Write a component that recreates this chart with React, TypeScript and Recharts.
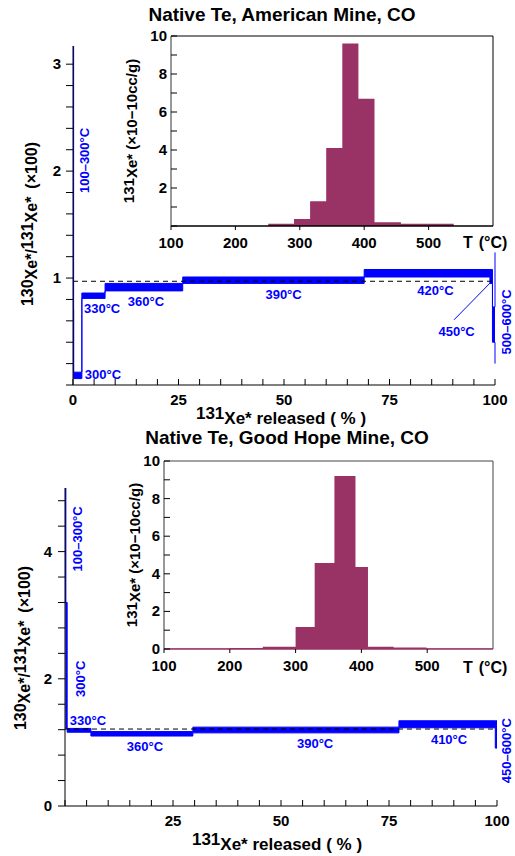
import React from 'react';
import { Area, ComposedChart, ReferenceDot, ReferenceLine, XAxis, YAxis } from 'recharts';

const FONT = '"Liberation Sans", Arial, Helvetica, sans-serif';
const BLUE = '#0000ff';
const MAROON = '#993366';

// ---- American Mine (top panel) ----
// cumulative 131Xe* released (%) at start of each step, 130Xe*/131Xe* band (x100)
const amPct = [0, 0.15, 2.1, 7.6, 26, 69, 98.8, 99.4, 100];
const amLow = [0.7, 0.06, 0.81, 0.88, 0.95, 1.01, 0.95, 0.4, 0.2];
const amHigh = [3.17, 0.12, 0.86, 0.95, 1.01, 1.08, 1.08, 0.73, 1.24];
const amAir = 0.97;
// inset: 131Xe* per temperature step (x10^-10 cc/g), bin edges in °C
const amEdges = [251, 291, 316, 341, 366, 391, 416, 457, 539];
const amXe = [0.12, 0.37, 1.3, 4.1, 9.6, 6.7, 0.2, 0.12];

// ---- Good Hope Mine (bottom panel) ----
const ghPct = [0, 0.2, 0.5, 6, 29.6, 77.3, 99.6, 100];
const ghLow = [3.2, 1.22, 1.16, 1.1, 1.15, 1.23, 0.91, 0.91];
const ghHigh = [5.0, 3.2, 1.22, 1.17, 1.24, 1.34, 1.34, 1.34];
const ghAir = 1.21;
const ghEdges = [100, 200, 250, 300, 329, 359, 391, 410, 449, 499, 600];
const ghXe = [0.03, 0.05, 0.12, 1.17, 4.57, 9.2, 4.36, 0.12, 0.08, 0.03];

// step labels: text, % released, ratio, vertical
type Note = [string, number, number, boolean];
const amNotes: Note[] = [
  ['100–300°C', 2.6, 2.1, true],
  ['300°C', 7.1, 0.1, false],
  ['330°C', 6.9, 0.72, false],
  ['360°C', 17.3, 0.78, false],
  ['390°C', 49.9, 0.85, false],
  ['420°C', 85.9, 0.88, false],
  ['450°C', 90.9, 0.5, false],
  ['500–600°C', 102.8, 0.59, true],
];
const ghNotes: Note[] = [
  ['100–300°C', 2.8, 4.2, true],
  ['300°C', 3.5, 2.0, true],
  ['330°C', 5.3, 1.34, false],
  ['360°C', 18.5, 0.93, false],
  ['390°C', 57.9, 0.98, false],
  ['410°C', 88.9, 1.04, false],
  ['450–600°C', 102.3, 0.87, true],
];

const steps = (from: number, to: number, step: number) => {
  const out: number[] = [];
  for (let i = 0; from + i * step <= to + 1e-9; i++) out.push(Math.round((from + i * step) * 1000) / 1000);
  return out;
};
const pctTicks = steps(0, 100, 5);
const tempTicks = [100, 200, 300, 400, 500];
const insetYTicks = steps(0, 10, 1);

const has = (list: number[], v: number) => list.some((l) => Math.abs(l - v) < 1e-6);

const leftTick = (labels: number[], len: number, inward: boolean, gap: number) => (p: any) => {
  const { x, y, payload } = p;
  return (
    <g>
      <line x1={x} x2={inward ? x + len : x - len} y1={y} y2={y} stroke="#000" />
      {has(labels, payload.value) && (
        <text x={x - gap} y={y} dy={5} textAnchor="end" fontFamily={FONT} fontWeight="bold" fontSize={15} fill="#000">
          {payload.value}
        </text>
      )}
    </g>
  );
};

const bottomTick = (labels: number[], len: number, inward: boolean, gap: number) => (p: any) => {
  const { x, y, payload } = p;
  return (
    <g>
      <line x1={x} x2={x} y1={y} y2={inward ? y - len : y + len} stroke="#000" />
      {has(labels, payload.value) && (
        <text x={x} y={y + gap} textAnchor="middle" fontFamily={FONT} fontWeight="bold" fontSize={15} fill="#000">
          {payload.value}
        </text>
      )}
    </g>
  );
};

const noteShape = (text: string, vertical: boolean) => (p: any) => (
  <text
    x={p.cx}
    y={p.cy}
    dy="0.35em"
    textAnchor="middle"
    transform={vertical ? `rotate(-90 ${p.cx} ${p.cy})` : undefined}
    fill={BLUE}
    fontFamily={FONT}
    fontWeight="bold"
    fontSize={13}
  >
    {text}
  </text>
);

type MainProps = {
  top: number;
  height: number;
  margin: { top: number; right: number; bottom: number; left: number };
  pct: number[];
  low: number[];
  high: number[];
  air: number;
  yMax: number;
  yTicks: number[];
  yLabels: number[];
  xLabels: number[];
  gap: number;
  notes: Note[];
  leader?: { x: number; y: number }[];
};

function MainPanel(props: MainProps) {
  const { top, height, margin, pct, low, high, air, yMax, yTicks, yLabels, xLabels, gap, notes, leader } = props;
  const data = pct.map((p, i) => ({ pct: p, band: [low[i], high[i]] }));
  return (
    <div style={{ position: 'absolute', left: 0, top }}>
      <ComposedChart width={515} height={height} margin={margin} data={data}>
        <XAxis
          dataKey="pct"
          type="number"
          domain={[0, 100]}
          ticks={pctTicks}
          interval={0}
          height={30}
          tickLine={false}
          tickSize={0}
          tickMargin={0}
          axisLine={{ stroke: '#000' }}
          tick={bottomTick(xLabels, 6, true, 20)}
        />
        <YAxis
          type="number"
          domain={[0, yMax]}
          ticks={yTicks}
          interval={0}
          width={40}
          allowDataOverflow
          tickLine={false}
          tickSize={0}
          tickMargin={0}
          axisLine={{ stroke: '#000' }}
          tick={leftTick(yLabels, 7, false, gap)}
        />
        <Area
          dataKey="band"
          type="stepAfter"
          fill={BLUE}
          fillOpacity={1}
          stroke={BLUE}
          strokeWidth={1}
          dot={false}
          activeDot={false}
          isAnimationActive={false}
        />
        <ReferenceLine y={air} stroke="#000" strokeDasharray="5 4" />
        {leader && <ReferenceLine segment={leader} stroke={BLUE} strokeWidth={1} ifOverflow="visible" />}
        {notes.map(([text, x, y, vertical]) => (
          <ReferenceDot key={text} x={x} y={y} r={0} ifOverflow="visible" shape={noteShape(text, vertical)} />
        ))}
      </ComposedChart>
    </div>
  );
}

type InsetProps = {
  top: number;
  margin: { top: number; right: number; bottom: number; left: number };
  edges: number[];
  values: number[];
  yLabels: number[];
  frame: string;
  base: string;
};

function InsetPanel({ top, margin, edges, values, yLabels, frame, base }: InsetProps) {
  const data = edges.map((t, i) => ({ t, v: i < values.length ? values[i] : 0 }));
  return (
    <div style={{ position: 'absolute', left: 0, top }}>
      <ComposedChart width={515} height={260} margin={margin} data={data}>
        <XAxis
          dataKey="t"
          type="number"
          domain={[100, 600]}
          ticks={tempTicks}
          interval={0}
          height={25}
          tickLine={false}
          tickSize={0}
          tickMargin={0}
          axisLine={{ stroke: base, strokeWidth: 1.5 }}
          tick={bottomTick(tempTicks, 4, false, 22)}
        />
        <YAxis
          type="number"
          domain={[0, 10]}
          ticks={insetYTicks}
          interval={0}
          width={40}
          tickLine={false}
          tickSize={0}
          tickMargin={0}
          axisLine={{ stroke: '#333' }}
          tick={leftTick(yLabels, 6, true, 4)}
        />
        <Area
          dataKey="v"
          type="stepAfter"
          baseValue={0}
          fill={MAROON}
          fillOpacity={1}
          stroke="none"
          dot={false}
          activeDot={false}
          isAnimationActive={false}
        />
        <ReferenceLine y={10} stroke={frame} />
        <ReferenceLine x={600} stroke={frame} />
      </ComposedChart>
    </div>
  );
}

const txt = { fontFamily: FONT, fontWeight: 'bold' as const, fill: '#000' };

function RatioLabel({ x, cy }: { x: number; cy: number }) {
  return (
    <text transform="rotate(-90)" x={-cy} y={x} textAnchor="middle" fontSize={16} {...txt}>
      <tspan dy={-4}>130</tspan>
      <tspan dy={4}>Xe*/</tspan>
      <tspan dy={-4}>131</tspan>
      <tspan dy={4}>Xe*</tspan>
      <tspan dx={8}>(×100)</tspan>
    </text>
  );
}

function InsetLabel({ x, cy }: { x: number; cy: number }) {
  return (
    <text transform="rotate(-90)" x={-cy} y={x} textAnchor="middle" fontSize={15} {...txt}>
      <tspan dy={-3}>131</tspan>
      <tspan dy={3}>Xe* (×10−10cc/g)</tspan>
    </text>
  );
}

function ReleasedLabel({ cx, y }: { cx: number; y: number }) {
  return (
    <text x={cx} y={y} textAnchor="middle" fontSize={17} {...txt}>
      <tspan dy={-5}>131</tspan>
      <tspan dy={5}>Xe* released ( % )</tspan>
    </text>
  );
}

export default function App() {
  return (
    <div style={{ position: 'absolute', left: 0, top: 0, width: 515, height: 856, background: '#fff' }}>
      <MainPanel
        top={0}
        height={430}
        margin={{ top: 46, right: 20, bottom: 15, left: 33 }}
        pct={amPct}
        low={amLow}
        high={amHigh}
        air={amAir}
        yMax={3.17}
        yTicks={steps(0, 3, 0.2)}
        yLabels={[1, 2, 3]}
        xLabels={[0, 25, 50, 75, 100]}
        gap={12}
        notes={amNotes}
        leader={[
          { x: 90.3, y: 0.61 },
          { x: 99, y: 0.96 },
        ]}
      />
      <InsetPanel
        top={0}
        margin={{ top: 36, right: 22, bottom: 9, left: 131 }}
        edges={amEdges}
        values={amXe}
        yLabels={[2, 4, 6, 8, 10]}
        frame="#000"
        base="#000"
      />
      <MainPanel
        top={430}
        height={426}
        margin={{ top: 58, right: 18, bottom: 20, left: 25 }}
        pct={ghPct}
        low={ghLow}
        high={ghHigh}
        air={ghAir}
        yMax={5}
        yTicks={steps(0, 4.8, 0.4)}
        yLabels={[0, 2, 4]}
        xLabels={[25, 50, 75, 100]}
        gap={13}
        notes={ghNotes}
      />
      <InsetPanel
        top={430}
        margin={{ top: 31, right: 22, bottom: 16, left: 124 }}
        edges={ghEdges}
        values={ghXe}
        yLabels={[0, 2, 4, 6, 8, 10]}
        frame="#444"
        base={MAROON}
      />
      <svg width={515} height={856} style={{ position: 'absolute', left: 0, top: 0, pointerEvents: 'none' }}>
        <text x={282} y={21} textAnchor="middle" fontSize={19} {...txt}>
          Native Te, American Mine, CO
        </text>
        <text x={287} y={444} textAnchor="middle" fontSize={19} {...txt}>
          Native Te, Good Hope Mine, CO
        </text>
        <RatioLabel x={37} cy={224} />
        <RatioLabel x={30} cy={648} />
        <InsetLabel x={137} cy={131} />
        <InsetLabel x={140} cy={555} />
        <ReleasedLabel cx={281} y={424} />
        <ReleasedLabel cx={277} y={850} />
        <text x={463} y={248} fontSize={16} {...txt}>
          T<tspan dx={6}>(°C)</tspan>
        </text>
        <text x={463} y={673} fontSize={16} {...txt}>
          T<tspan dx={6}>(°C)</tspan>
        </text>
      </svg>
    </div>
  );
}
